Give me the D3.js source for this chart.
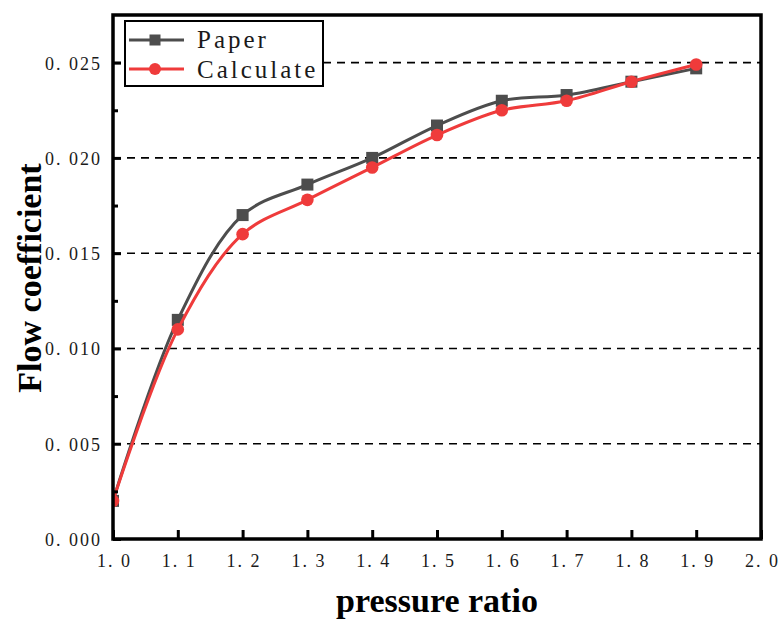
<!DOCTYPE html>
<html>
<head>
<meta charset="utf-8">
<script src="https://cdn.jsdelivr.net/npm/d3@7"></script>
<style>
  html, body { margin: 0; padding: 0; background: #fff; }
  svg { display: block; }
</style>
</head>
<body>
<svg id="chart" width="778" height="619"></svg>
<script>
// Flow coefficient against pressure ratio
const pressureRatio = [1.0, 1.1, 1.2, 1.3, 1.4, 1.5, 1.6, 1.7, 1.8, 1.9];
const paperValues = [0.0020, 0.0115, 0.0170, 0.0186, 0.0200, 0.0217, 0.0230, 0.0233, 0.0240, 0.0247];
const calculateValues = [0.0020, 0.0110, 0.0160, 0.0178, 0.0195, 0.0212, 0.0225, 0.0230, 0.0240, 0.0249];
const xTicks = [1.0, 1.1, 1.2, 1.3, 1.4, 1.5, 1.6, 1.7, 1.8, 1.9, 2.0];
const yTicks = [0.000, 0.005, 0.010, 0.015, 0.020, 0.025];
const yMinorTicks = [0.0025, 0.0075, 0.0125, 0.0175, 0.0225];
const seriesNames = ["Paper", "Calculate"];

const svg = d3.select("#chart");
const m = { left: 113, right: 761, top: 15, bottom: 539 };
const W = m.right - m.left, H = m.bottom - m.top;

const x = d3.scaleLinear().domain([1.0, 2.0]).range([m.left, m.right]);
const y = d3.scaleLinear().domain([0, 0.0275]).range([m.bottom, m.top]);

const grey = "#4d4d4d", red = "#ef3b3b";
const tickFont = "'Liberation Serif', 'Times New Roman', serif";

// dashed horizontal grid at major y ticks
svg.append("g").selectAll("line")
  .data(yTicks.filter(d => d > 0))
  .join("line")
  .attr("x1", m.left).attr("x2", m.right)
  .attr("y1", d => y(d)).attr("y2", d => y(d))
  .attr("stroke", "#000").attr("stroke-width", 1.6)
  .attr("stroke-dasharray", "8,6");

// clip for the data
svg.append("defs").append("clipPath").attr("id", "plotClip")
  .append("rect").attr("x", m.left).attr("y", m.top).attr("width", W).attr("height", H);

const plot = svg.append("g").attr("clip-path", "url(#plotClip)");
const line = d3.line()
  .x((d, i) => x(pressureRatio[i]))
  .y(d => y(d))
  .curve(d3.curveCatmullRom.alpha(0.5));

// Paper series: grey line, square markers
plot.append("path").datum(paperValues)
  .attr("d", line).attr("fill", "none")
  .attr("stroke", grey).attr("stroke-width", 3);
plot.append("g").selectAll("rect")
  .data(paperValues).join("rect")
  .attr("x", (d, i) => x(pressureRatio[i]) - 6)
  .attr("y", d => y(d) - 6)
  .attr("width", 12).attr("height", 12)
  .attr("fill", grey);

// Calculate series: red line, circle markers
plot.append("path").datum(calculateValues)
  .attr("d", line).attr("fill", "none")
  .attr("stroke", red).attr("stroke-width", 3);
plot.append("g").selectAll("circle")
  .data(calculateValues).join("circle")
  .attr("cx", (d, i) => x(pressureRatio[i]))
  .attr("cy", d => y(d))
  .attr("r", 6.3)
  .attr("fill", red);

// axes with inward ticks
const fmtY = d => d3.format(".3f")(d).replace(".", ". ");
const fmtX = d => d3.format(".1f")(d).replace(".", ". ");

const yAxis = svg.append("g").attr("transform", `translate(${m.left},0)`)
  .call(d3.axisLeft(y).tickValues(yTicks).tickFormat(fmtY).tickSizeInner(-8).tickSizeOuter(0).tickPadding(13));
const yMinor = svg.append("g").attr("transform", `translate(${m.left},0)`)
  .call(d3.axisLeft(y).tickValues(yMinorTicks).tickFormat("").tickSizeInner(-5).tickSizeOuter(0));
const xAxis = svg.append("g").attr("transform", `translate(0,${m.bottom})`)
  .call(d3.axisBottom(x).tickValues(xTicks).tickFormat(fmtX).tickSizeInner(-9).tickSizeOuter(0).tickPadding(15));

[yAxis, yMinor, xAxis].forEach(g => {
  g.attr("font-family", tickFont).attr("font-size", 18);
  g.select(".domain").remove();
  g.selectAll(".tick line").attr("stroke", "#000").attr("stroke-width", 3);
  g.selectAll(".tick text")
    .attr("fill", "#1a1a1a")
    .style("font-family", tickFont)
    .style("font-size", "18px")
    .style("letter-spacing", "2px")
    .attr("xml:space", "preserve");
});
yAxis.selectAll(".tick text").attr("dx", "2px").attr("dy", "0.36em");
xAxis.selectAll(".tick text").attr("dx", "1px");

// frame
svg.append("rect")
  .attr("x", m.left).attr("y", m.top).attr("width", W).attr("height", H)
  .attr("fill", "none").attr("stroke", "#000").attr("stroke-width", 3.5);

// axis titles
svg.append("text")
  .attr("x", (m.left + m.right) / 2).attr("y", 612)
  .attr("text-anchor", "middle")
  .style("font-family", tickFont).style("font-weight", "bold").style("font-size", "34px")
  .text("pressure ratio");
svg.append("text")
  .attr("transform", `translate(41,${(m.top + m.bottom) / 2 + 1}) rotate(-90)`)
  .attr("text-anchor", "middle")
  .style("font-family", tickFont).style("font-weight", "bold").style("font-size", "34px")
  .text("Flow coefficient");

// legend
const legend = svg.append("g");
legend.append("rect")
  .attr("x", 125).attr("y", 21).attr("width", 198).attr("height", 65)
  .attr("fill", "#fff").attr("stroke", "#000").attr("stroke-width", 2);
const rows = [
  { name: seriesNames[0], color: grey, shape: "square", cy: 40, base: 48 },
  { name: seriesNames[1], color: red, shape: "circle", cy: 69, base: 78 }
];
rows.forEach(r => {
  legend.append("line")
    .attr("x1", 129).attr("x2", 184).attr("y1", r.cy).attr("y2", r.cy)
    .attr("stroke", r.color).attr("stroke-width", 3);
  if (r.shape === "square") {
    legend.append("rect").attr("x", 155 - 5.5).attr("y", r.cy - 5.5)
      .attr("width", 11).attr("height", 11).attr("fill", r.color);
  } else {
    legend.append("circle").attr("cx", 155).attr("cy", r.cy).attr("r", 6).attr("fill", r.color);
  }
  legend.append("text")
    .attr("x", 197).attr("y", r.base)
    .attr("fill", "#1a1a1a")
    .style("font-family", tickFont).style("font-size", "25px").style("letter-spacing", "3px")
    .text(r.name);
});
</script>
</body>
</html>
